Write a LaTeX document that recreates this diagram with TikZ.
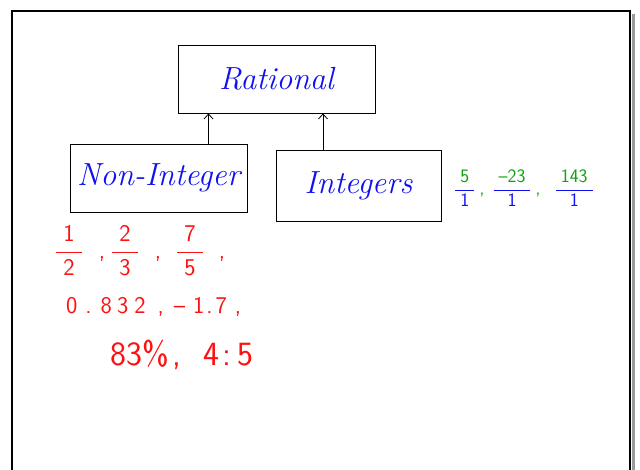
\documentclass[tikz,border=0pt]{standalone}
\usepackage{amsmath}
\usepackage{tikz}
\usetikzlibrary{arrows.meta, positioning}
\usepackage{xcolor}
\definecolor{InkBlue}{HTML}{1010F0}
\definecolor{InkRed}{HTML}{FF1010}
\definecolor{InkGreen}{HTML}{10A010}
\definecolor{InkBlack}{HTML}{000000}
\definecolor{FrameShadow}{HTML}{9A9A9A}
\newcommand{\redfrac}[2]{$\dfrac{\text{\hspace{7pt}#1\hspace{7pt}}}{\text{#2}}$}
\newcommand{\gbfrac}[2]{{\color{InkBlue}$\dfrac{\text{\hspace{5pt}\textcolor{InkGreen}{#1}\hspace{5pt}}}{\text{#2}}$}}
\tikzset{
    % Box styles - hand drawn look
    classbox/.style={
        rectangle,
        draw=InkBlack,
        line width=0.8pt,
        align=center,
        text=InkBlue,
        font=\fontsize{32}{36}\selectfont\itshape
    },
    % Ink styles for the notes
    rednote/.style={
        text=InkRed,
        anchor=west,
        inner sep=0pt,
        font=\sffamily
    },
    % Arrow styles
    arrow/.style={
        -{Straight Barb[length=5pt, width=9pt]},
        line width=0.8pt,
        draw=InkBlack
    }
}
\begin{document}
\begin{tikzpicture}[x=1pt, y=-1pt]
    \useasboundingbox (0,0) rectangle (640,470);

    % whiteboard frame
    \draw[FrameShadow, line width=3pt] (633.5,14) -- (633.5,470);
    \draw[InkBlack, line width=2pt] (12,470) -- (12,11) -- (630,11) -- (630,470);

    \node[classbox, minimum width=197pt, minimum height=68pt] (rat) at (276.5,79) {Rational};
    \node[classbox, minimum width=177pt, minimum height=68pt] (nonint) at (158.5,178) {Non-Integer};
    \node[classbox, minimum width=165pt, minimum height=71pt] (ints) at (358.5,185.5) {Integers};

    \draw[arrow] ([xshift=50pt]nonint.north) -- ([xshift=50pt]nonint.north |- rat.south);
    \draw[arrow] ([xshift=-35.5pt]ints.north) -- ([xshift=-35.5pt]ints.north |- rat.south);

    % examples of integers
    \node[anchor=west, inner sep=0pt, font=\fontsize{19}{22}\selectfont\sffamily] (intex) at (454,188)
        {\gbfrac{5}{1}\hspace{4pt}{\color{InkGreen},}\hspace{8pt}\gbfrac{--23}{1}\hspace{4pt}{\color{InkGreen},}\hspace{14pt}\gbfrac{143}{1}};

    % examples of non-integers
    \node[rednote, font=\fontsize{24}{28}\selectfont\sffamily] (fracs) at (55,251)
        {\redfrac{1}{2}\hspace{16pt},\hspace{6pt}\redfrac{2}{3}\hspace{16pt},\hspace{15pt}\redfrac{7}{5}\hspace{15pt},};
    \node[rednote, font=\fontsize{24}{28}\selectfont\sffamily] (decs) at (66,307)
        {0\hspace{8pt}.\hspace{9pt}8\hspace{5pt}3\hspace{6pt}2\hspace{12pt},\hspace{10pt}--\hspace{8pt}1\hspace{2pt}.\hspace{3pt}7\hspace{8pt},};
    \node[rednote, font=\fontsize{34}{38}\selectfont\sffamily] (pcts) at (110,355)
        {83\%\hspace{4pt},\hspace{22pt}4\hspace{3pt}:\hspace{6pt}5};
\end{tikzpicture}
\end{document}
